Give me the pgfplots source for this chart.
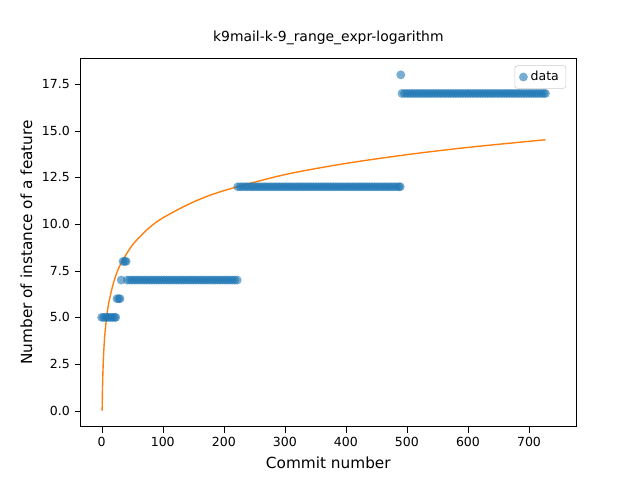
\documentclass[border=0pt]{standalone}
\usepackage{pgfplots}
\pgfplotsset{compat=1.18}
\usepackage{fontspec}
\setmainfont{DejaVu Sans}
\definecolor{mblue}{HTML}{1F77B4}
\definecolor{morange}{HTML}{FF7F0E}
\begin{document}
\begin{tikzpicture}
\path[use as bounding box] (-58pt,-38.9pt) rectangle (402pt,306.7pt);
\begin{axis}[scale only axis, width=356pt, height=265pt,
xmin=-34.4, xmax=777, ymin=-0.86, ymax=18.9,
xtick={0,100,...,700}, ytick={0,2.5,...,17.5},
yticklabel style={/pgf/number format/fixed,/pgf/number format/fixed zerofill,/pgf/number format/precision=1},
/pgf/number format/assume math mode=true,
tick align=outside, tick pos=left, tick style={black}, ticklabel style={font=\small},
xlabel={Commit number}, ylabel={Number of instance of a feature},
label style={font=\fontsize{11}{13}\selectfont},
title={k9mail-k-9\_range\_expr-logarithm},
legend style={at={(0.98,0.98)},anchor=north east,font=\small,rounded corners=2pt,draw=black!20},
]
\addplot[only marks, mark=*, mark size=3.2pt, color=mblue, fill opacity=0.6, draw opacity=0] coordinates {
(0,5)(3,5)(6,5)(9,5)(12,5)(15,5)(18,5)(21,5)(23,5)
(25,6)(28,6)(30,6)(32,7)(35,8)(38,8)(40,8)
(42,7)(46,7)(50,7)(54,7)(58,7)(62,7)(66,7)(70,7)(74,7)(78,7)(82,7)(86,7)(90,7)(94,7)(98,7)(102,7)(106,7)(110,7)(114,7)(118,7)(122,7)(126,7)(130,7)(134,7)(138,7)(142,7)(146,7)(150,7)(154,7)(158,7)(162,7)(166,7)(170,7)(174,7)(178,7)(182,7)(186,7)(190,7)(194,7)(198,7)(202,7)(206,7)(210,7)(214,7)(218,7)(222,7)
(223,12)(227,12)(231,12)(235,12)(239,12)(243,12)(247,12)(251,12)(255,12)(259,12)(263,12)(267,12)(271,12)(275,12)(279,12)(283,12)(287,12)(291,12)(295,12)(299,12)(303,12)(307,12)(311,12)(315,12)(319,12)(323,12)(327,12)(331,12)(335,12)(339,12)(343,12)(347,12)(351,12)(355,12)(359,12)(363,12)(367,12)(371,12)(375,12)(379,12)(383,12)(387,12)(391,12)(395,12)(399,12)(403,12)(407,12)(411,12)(415,12)(419,12)(423,12)(427,12)(431,12)(435,12)(439,12)(443,12)(447,12)(451,12)(455,12)(459,12)(463,12)(467,12)(471,12)(475,12)(479,12)(483,12)(487,12)(489,12)
(490,18)
(492,17)(496,17)(500,17)(504,17)(508,17)(512,17)(516,17)(520,17)(524,17)(528,17)(532,17)(536,17)(540,17)(544,17)(548,17)(552,17)(556,17)(560,17)(564,17)(568,17)(572,17)(576,17)(580,17)(584,17)(588,17)(592,17)(596,17)(600,17)(604,17)(608,17)(612,17)(616,17)(620,17)(624,17)(628,17)(632,17)(636,17)(640,17)(644,17)(648,17)(652,17)(656,17)(660,17)(664,17)(668,17)(672,17)(676,17)(680,17)(684,17)(688,17)(692,17)(696,17)(700,17)(704,17)(708,17)(712,17)(716,17)(720,17)(724,17)(727,17)
};
\addlegendentry{data}
\addplot[color=morange, line width=1pt, smooth, forget plot] coordinates {
(0.75,0)(1,0.61)(1.5,1.47)(2,2.07)(3,2.93)(4,3.53)(5,4.01)(8,5.0)(12,5.85)(20,6.93)(30,7.79)(50,8.86)(75,9.72)(100,10.33)(150,11.18)(200,11.79)(300,12.65)(400,13.25)(500,13.72)(600,14.11)(727,14.52)
};
\end{axis}
\end{tikzpicture}
\end{document}
